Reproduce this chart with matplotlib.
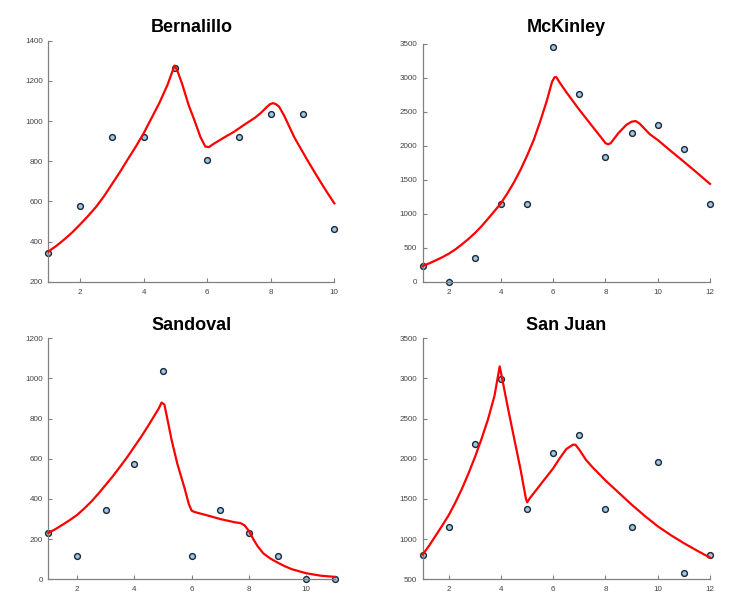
import matplotlib
matplotlib.use("Agg")
import matplotlib.pyplot as plt

plt.rcParams['font.family'] = ['Liberation Sans', 'DejaVu Sans']

# ---------------- data ----------------
titles = ["Bernalillo", "McKinley", "Sandoval", "San Juan"]

bern_x = [1, 2, 3, 4, 5, 6, 7, 8, 9, 10]
bern_y = [345, 575, 920, 920, 1265, 805, 920, 1035, 1035, 460]
bern_fit_x = [1, 1.25, 1.5, 1.75, 2, 2.25, 2.5, 2.75, 3, 3.25, 3.5, 3.75, 4, 4.21, 4.5,
              4.75, 4.9, 4.97, 5.05, 5.21, 5.42, 5.58, 5.79, 5.94, 6.05, 6.21,
              6.5, 6.84, 7.2, 7.5, 7.68, 7.89, 7.98, 8.07, 8.16, 8.26, 8.42, 8.58, 8.74, 9,
              9.16, 9.38, 9.58, 9.8, 10]
bern_fit_y = [350, 378, 410, 445, 485, 527, 572, 625, 685, 745, 809, 872, 939, 1003, 1092,
              1180, 1245, 1276, 1255, 1185, 1077, 1011, 919, 873, 870, 887,
              915, 946, 985, 1016, 1039, 1072, 1084, 1089, 1084, 1072, 1027, 973, 919, 847,
              803, 745, 693, 638, 590]

mck_x = [1, 2, 3, 4, 5, 6, 7, 8, 9, 10, 11, 12]
mck_y = [230, 0, 345, 1150, 1150, 3450, 2760, 1840, 2185, 2300, 1955, 1150]
mck_fit_x = [1, 1.25, 1.5, 1.75, 2, 2.25, 2.5, 2.75, 3, 3.25, 3.5, 3.75, 4, 4.25, 4.5, 4.75,
             5, 5.25, 5.5, 5.75, 5.95, 6.05, 6.12, 6.25, 6.5, 7, 7.5, 7.9, 8.0, 8.1, 8.2,
             8.5, 8.8, 9.0, 9.15, 9.3, 9.5, 9.7, 10, 10.5, 11, 11.5, 12]
mck_fit_y = [230, 270, 314, 360, 412, 475, 549, 628, 716, 815, 926, 1040, 1157, 1305, 1466, 1650,
             1858, 2085, 2360, 2660, 2940, 3010, 3010, 2930, 2790, 2530, 2285, 2090, 2040, 2022,
             2040, 2190, 2310, 2355, 2365, 2330, 2250, 2170, 2086, 1925, 1767, 1605, 1440]

san_x = [1, 2, 3, 4, 5, 6, 7, 8, 9, 10, 11]
san_y = [230, 115, 345, 575, 1035, 115, 345, 230, 115, 0, 0]
san_fit_x = [1, 1.25, 1.5, 1.75, 2, 2.25, 2.5, 2.75, 3, 3.25, 3.5, 3.75, 4, 4.25, 4.5, 4.7,
             4.85, 4.95, 5.05, 5.15, 5.3, 5.5, 5.75, 5.9, 6, 6.1, 6.5, 7, 7.5, 7.7, 7.85, 8,
             8.15, 8.3, 8.5, 8.75, 9, 9.25, 9.5, 9.75, 10, 10.5, 11]
san_fit_y = [231, 250, 272, 295, 320, 352, 387, 427, 470, 513, 560, 608, 660, 712, 768, 815,
             850, 880, 870, 800, 694, 575, 455, 375, 342, 335, 320, 300, 284, 280, 268, 240,
             200, 165, 129, 103, 83, 65, 50, 40, 30, 18, 12]

sj_x = [1, 2, 3, 4, 5, 6, 7, 8, 9, 10, 11, 12]
sj_y = [805, 1150, 2185, 2990, 1380, 2070, 2300, 1380, 1150, 1955, 575, 805]
sj_fit_x = [1, 1.25, 1.5, 1.75, 2, 2.25, 2.5, 2.75, 3, 3.25, 3.5, 3.75, 3.9, 3.95, 4.05,
            4.25, 4.5, 4.75, 4.95, 5.0, 5.1, 5.5, 6, 6.25, 6.5, 6.75, 6.85, 7, 7.25, 7.5,
            8, 8.5, 9, 9.5, 10, 10.5, 11, 11.5, 12]
sj_fit_y = [808, 920, 1045, 1170, 1300, 1455, 1625, 1815, 2020, 2245, 2490, 2785, 3060, 3150, 2988,
            2654, 2258, 1863, 1508, 1458, 1508, 1675, 1883, 2008, 2121, 2175, 2175, 2112, 1988, 1896,
            1730, 1580, 1430, 1290, 1160, 1050, 950, 858, 770]

panels = [
    (bern_x, bern_y, bern_fit_x, bern_fit_y, (1, 10), (200, 1400), [2, 4, 6, 8, 10], list(range(200, 1401, 200))),
    (mck_x, mck_y, mck_fit_x, mck_fit_y, (1, 12), (0, 3500), [2, 4, 6, 8, 10, 12], list(range(0, 3501, 500))),
    (san_x, san_y, san_fit_x, san_fit_y, (1, 11), (0, 1200), [2, 4, 6, 8, 10], list(range(0, 1201, 200))),
    (sj_x, sj_y, sj_fit_x, sj_fit_y, (1, 12), (500, 3500), [2, 4, 6, 8, 10, 12], list(range(500, 3501, 500))),
]

rects = [
    [0.0653, 0.5367, 0.3865, 0.3964],
    [0.5712, 0.5367, 0.3882, 0.3910],
    [0.0653, 0.0472, 0.3874, 0.3964],
    [0.5712, 0.0472, 0.3882, 0.3964],
]
title_pads = [6, 8.4, 6, 6]

fig = plt.figure(figsize=(7.40, 6.08), dpi=100)
axis_col = '#808080'
for title, rect, tpad, (px, py, fx, fy, xl, yl, xt, yt) in zip(titles, rects, title_pads, panels):
    ax = fig.add_axes(rect)
    ax.plot(px, py, linestyle='none', marker='o', markersize=4.2,
            markerfacecolor='#9fc5e8', markeredgecolor='#1c2833', markeredgewidth=1.0,
            zorder=2, clip_on=False)
    ax.plot(fx, fy, color='#ff0000', linewidth=1.6, zorder=3, clip_on=False,
            solid_joinstyle='round')
    ax.set_xlim(*xl)
    ax.set_ylim(*yl)
    ax.set_xticks(xt)
    ax.set_yticks(yt)
    for s in ['top', 'right']:
        ax.spines[s].set_visible(False)
    for s in ['left', 'bottom']:
        ax.spines[s].set_color(axis_col)
        ax.spines[s].set_linewidth(0.9)
    ax.tick_params(direction='in', length=3, width=0.8, color=axis_col,
                   labelsize=5.8, labelcolor='#444444')
    ax.tick_params(axis='x', pad=5)
    ax.tick_params(axis='y', pad=4)
    ax.set_title(title, fontsize=13, fontweight='bold', pad=tpad)

fig.savefig('out.png', dpi=100)
